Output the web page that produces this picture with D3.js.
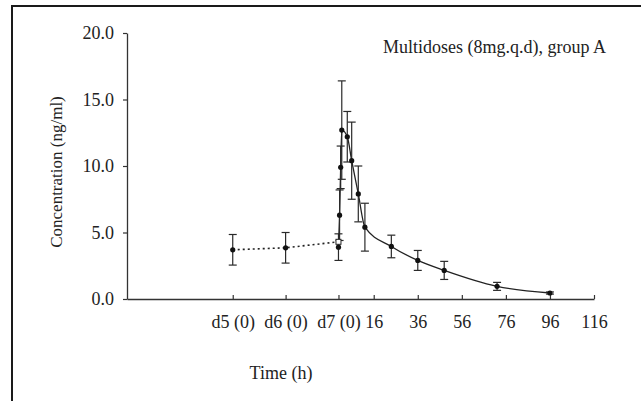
<!DOCTYPE html>
<html>
<head>
<meta charset="utf-8">
<script src="https://cdn.jsdelivr.net/npm/d3@7"></script>
<style>
  body { margin: 0; background: #fff; }
  svg { display: block; }
  text { font-family: "Liberation Serif", "Times New Roman", serif; fill: #222; }
</style>
</head>
<body>
<script>
// trough samples before the last dose (dotted)
const troughHours = [-48, -24, 0];
const troughConc = [3.7, 3.85, 4.3];
const troughSd = [1.15, 1.15, 0];

// day 7 profile, mean +- SD
const timeHours = [0, 0.5, 1, 1.5, 4, 6, 9, 12, 24, 36, 48, 72, 96];
const meanConc = [3.9, 6.3, 9.9, 12.7, 12.2, 10.4, 7.9, 5.4, 3.95, 2.9, 2.15, 0.95, 0.45];
const sdConc = [1.0, 1.9, 1.6, 3.7, 1.9, 2.9, 2.1, 1.8, 0.85, 0.75, 0.68, 0.3, 0.08];

const xTicks = [-48, -24, 0, 16, 36, 56, 76, 96, 116];
const xTickLabels = ["d5 (0)", "d6 (0)", "d7 (0)", "16", "36", "56", "76", "96", "116"];
const yTicks = [0, 5, 10, 15, 20];

const width = 641, height = 401;

const svg = d3.select("body").append("svg")
    .attr("width", width)
    .attr("height", height);

// frame (right and bottom edges fall outside the picture)
svg.append("rect")
    .attr("x", 12).attr("y", 6)
    .attr("width", 700).attr("height", 500)
    .attr("fill", "none")
    .attr("stroke", "#1a1a1a")
    .attr("stroke-width", 2);

const x = d3.scaleLinear().domain([-96, 116]).range([127, 594]);
const y = d3.scaleLinear().domain([0, 20]).range([299, 33]);

const xAxis = d3.axisBottom(x)
    .tickValues(xTicks)
    .tickFormat((d, i) => xTickLabels[i])
    .tickSizeInner(-4)
    .tickSizeOuter(0)
    .tickPadding(16);

const yAxis = d3.axisLeft(y)
    .tickValues(yTicks)
    .tickFormat(d3.format(".1f"))
    .tickSizeInner(4)
    .tickSizeOuter(0)
    .tickPadding(9);

const gx = svg.append("g")
    .attr("transform", `translate(0,${y(0)})`)
    .call(xAxis);

const gy = svg.append("g")
    .attr("transform", `translate(${x(-96)},0)`)
    .call(yAxis);

[gx, gy].forEach(g => {
    g.select(".domain").attr("stroke", "#333").attr("stroke-width", 1.3);
    g.selectAll(".tick line").attr("stroke", "#333").attr("stroke-width", 1.2);
    g.selectAll(".tick text")
        .attr("font-family", "Liberation Serif, Times New Roman, serif")
        .attr("font-size", 18)
        .attr("fill", "#222");
});

const trough = troughHours.map((t, i) => ({ t, v: troughConc[i], sd: troughSd[i] }));
const profile = timeHours.map((t, i) => ({ t, v: meanConc[i], sd: sdConc[i] }));

// dotted trough line
svg.append("path")
    .datum(trough)
    .attr("fill", "none")
    .attr("stroke", "#222")
    .attr("stroke-width", 1.6)
    .attr("stroke-dasharray", "2,3")
    .attr("d", d3.line().x(d => x(d.t)).y(d => y(d.v)));

svg.append("path")
    .datum(profile)
    .attr("fill", "none")
    .attr("stroke", "#222")
    .attr("stroke-width", 1.3)
    .attr("d", d3.line().x(d => x(d.t)).y(d => y(d.v)).curve(d3.curveMonotoneX));

// error bars
const bars = trough.concat(profile).filter(d => d.sd > 0);
const eb = svg.append("g")
    .attr("stroke", "#2a2a2a")
    .attr("stroke-width", 1.2);

bars.forEach(d => {
    const cx = x(d.t), top = y(d.v + d.sd), bot = y(Math.max(0, d.v - d.sd));
    eb.append("line").attr("x1", cx).attr("x2", cx).attr("y1", top).attr("y2", bot);
    eb.append("line").attr("x1", cx - 4).attr("x2", cx + 4).attr("y1", top).attr("y2", top);
    eb.append("line").attr("x1", cx - 4).attr("x2", cx + 4).attr("y1", bot).attr("y2", bot);
});

// markers
svg.append("g").selectAll("circle")
    .data(trough.slice(0, 2).concat(profile))
    .join("circle")
    .attr("cx", d => x(d.t))
    .attr("cy", d => y(d.v))
    .attr("r", 2.6)
    .attr("fill", "#111");

const last = trough[trough.length - 1];
svg.append("rect")
    .attr("x", x(last.t) - 2.5)
    .attr("y", y(last.v) - 2.5)
    .attr("width", 5).attr("height", 5)
    .attr("fill", "#fff")
    .attr("stroke", "#222")
    .attr("stroke-width", 1);

// labels
svg.append("text")
    .attr("x", 606)
    .attr("y", 53)
    .attr("text-anchor", "end")
    .attr("font-size", 18)
    .text("Multidoses (8mg.q.d), group A");

svg.append("text")
    .attr("transform", "rotate(-90)")
    .attr("x", -172)
    .attr("y", 62)
    .attr("text-anchor", "middle")
    .attr("font-size", 17)
    .text("Concentration (ng/ml)");

svg.append("text")
    .attr("x", 281)
    .attr("y", 379)
    .attr("text-anchor", "middle")
    .attr("font-size", 18)
    .text("Time (h)");
</script>
</body>
</html>
